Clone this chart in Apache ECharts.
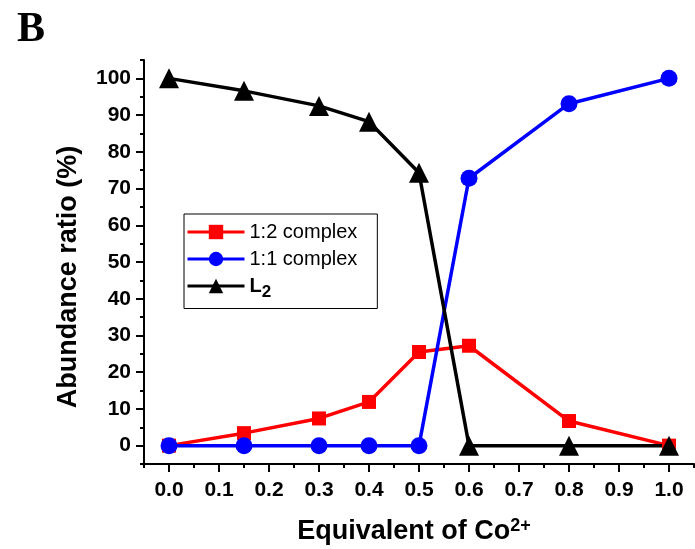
<!DOCTYPE html>
<html><head><meta charset="utf-8">
<script src="https://cdn.jsdelivr.net/npm/echarts@6/dist/echarts.min.js"></script>
<style>html,body{margin:0;padding:0;background:#fff}#c{width:695px;height:549px}</style>
</head><body><div id="c"></div>
<script>
const xValues = [0.0, 0.15, 0.3, 0.4, 0.5, 0.6, 0.8, 1.0];
const complex12 = [0, 3.4, 7.4, 11.9, 25.5, 27.2, 6.7, 0];
const complex11 = [0, 0, 0, 0, 0, 72.8, 93.1, 100];
const ligandL2 = [100, 96.6, 92.5, 88.2, 74.3, 0, 0, 0];
const xMajorTicks = [0, 0.1, 0.2, 0.3, 0.4, 0.5, 0.6, 0.7, 0.8, 0.9, 1.0];
const xMinorTicks = [-0.05, 0.05, 0.15, 0.25, 0.35, 0.45, 0.55, 0.65, 0.75, 0.85, 0.95, 1.05];
const yMajorTicks = [0, 10, 20, 30, 40, 50, 60, 70, 80, 90, 100];
const yMinorTicks = [-5, 5, 15, 25, 35, 45, 55, 65, 75, 85, 95, 105];

const pair = (xs, ys) => xs.map((x, i) => [x, ys[i]]);
const font = 'Liberation Sans, Arial, sans-serif';
const chart = echarts.init(document.getElementById('c'));
chart.setOption({
  animation: false,
  title: { text: 'B', left: 12, top: 4, textStyle: { fontFamily: 'Liberation Serif, Times New Roman, serif', fontWeight: 'bold', fontSize: 42, color: '#000' } },
  grid: { left: 144, right: 1, top: 60, bottom: 85, outerBoundsMode: 'none', containLabel: false },
  legend: {
    orient: 'vertical', left: 184, top: 214,
    itemWidth: 57, itemHeight: 18, itemGap: 7,
    padding: [8, 20, 8, 2],
    borderColor: '#000', borderWidth: 1,
    lineStyle: { width: 3 },
    textStyle: { fontFamily: font, fontSize: 20, lineHeight: 15, color: '#000',
      rich: { a: { fontFamily: font, fontSize: 20, fontWeight: 'bold', color: '#000' }, s: { fontFamily: font, fontSize: 17, fontWeight: 'bold', color: '#000', padding: [12, 0, 0, 0] } } },
    formatter: n => n === 'L2' ? '{a|L}{s|2}' : n,
    data: ['1:2 complex', '1:1 complex', 'L2']
  },
  xAxis: [
    { type: 'value', min: -0.05, max: 1.05, position: 'bottom',
      name: '{a|Equivalent of Co}{s|2+}', nameLocation: 'middle', nameGap: 53,
      nameTextStyle: { padding: [0, 10, 0, 0], rich: { a: { fontFamily: font, fontWeight: 'bold', fontSize: 27, color: '#000' }, s: { fontFamily: font, fontWeight: 'bold', fontSize: 18, color: '#000', padding: [0, 0, 12, 0] } } },
      axisLine: { onZero: false, lineStyle: { color: '#000', width: 2 } },
      axisTick: { customValues: xMajorTicks, length: 8, lineStyle: { width: 2, color: '#000' } },
      axisLabel: { customValues: xMajorTicks, formatter: v => v.toFixed(1), margin: 16, fontFamily: font, fontWeight: 'bold', fontSize: 21, color: '#000' },
      splitLine: { show: false } },
    { type: 'value', min: -0.05, max: 1.05, position: 'bottom',
      axisLine: { show: false, onZero: false },
      axisTick: { customValues: xMinorTicks, length: 4, lineStyle: { width: 2, color: '#000' } },
      axisLabel: { show: false }, splitLine: { show: false } }
  ],
  yAxis: [
    { type: 'value', min: -5, max: 105, position: 'left',
      name: 'Abundance ratio (%)', nameLocation: 'middle', nameGap: 62,
      nameTextStyle: { fontFamily: font, fontWeight: 'bold', fontSize: 27, color: '#000', padding: [0, 30, 0, 0] },
      axisLine: { show: true, onZero: false, lineStyle: { color: '#000', width: 2 } },
      axisTick: { show: true, customValues: yMajorTicks, length: 8, lineStyle: { width: 2, color: '#000' } },
      axisLabel: { customValues: yMajorTicks, margin: 13, fontFamily: font, fontWeight: 'bold', fontSize: 21, color: '#000' },
      splitLine: { show: false } },
    { type: 'value', min: -5, max: 105, position: 'left',
      axisLine: { show: false, onZero: false },
      axisTick: { show: true, customValues: yMinorTicks, length: 4, lineStyle: { width: 2, color: '#000' } },
      axisLabel: { show: false }, splitLine: { show: false } }
  ],
  series: [
    { name: '1:2 complex', type: 'line', data: pair(xValues, complex12), color: '#ff0000',
      symbol: 'rect', symbolSize: 14, lineStyle: { width: 3.5 }, itemStyle: { color: '#ff0000' } },
    { name: '1:1 complex', type: 'line', data: pair(xValues, complex11), color: '#0000ff',
      symbol: 'circle', symbolSize: 17, lineStyle: { width: 3.5 }, itemStyle: { color: '#0000ff' } },
    { name: 'L2', type: 'line', data: pair(xValues, ligandL2), color: '#000000',
      symbol: 'triangle', symbolSize: 20, lineStyle: { width: 3.5 }, itemStyle: { color: '#000000' } }
  ]
});
</script></body></html>
